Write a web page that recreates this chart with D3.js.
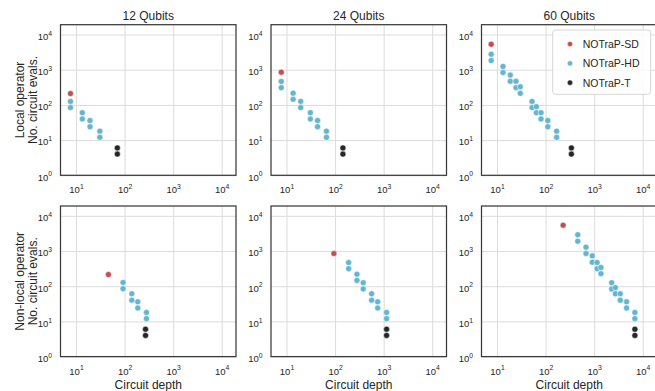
<!DOCTYPE html>
<html>
<head>
<meta charset="utf-8">
<script src="https://cdn.jsdelivr.net/npm/d3@7"></script>
<style>
  html, body { margin: 0; padding: 0; background: #fff; }
  svg { display: block; font-family: "Liberation Sans", Arial, Helvetica, sans-serif; }
</style>
</head>
<body>
<svg id="chart" width="655" height="391"></svg>
<script>
// ---------------- data ----------------
const columnTitles = ["12 Qubits", "24 Qubits", "60 Qubits"];
const rowLabels = ["Local operator", "Non-local operator"];
const yLabelLine2 = "No. circuit evals.";
const xLabel = "Circuit depth";
const seriesNames = ["NOTraP-SD", "NOTraP-HD", "NOTraP-T"];
const seriesColors = ["#c44e52", "#64b5cd", "#262626"];
const tickValues = [10, 100, 1000, 10000];

// Local operator, 12 qubits
const local12_sd_x = [7.7];
const local12_sd_y = [210];
const local12_hd_x = [7.7, 7.7, 13.5, 13.5, 19.4, 19.4, 31, 31];
const local12_hd_y = [126, 84, 60, 40, 36, 24, 18, 12];
const local12_t_x = [71, 71];
const local12_t_y = [6, 4];

// Local operator, 24 qubits
const local24_sd_x = [7.8];
const local24_sd_y = [850];
const local24_hd_x = [7.8, 7.8, 13.7, 13.7, 19.6, 19.6, 31, 31, 43.6, 43.6, 66.5, 66.5];
const local24_hd_y = [465, 310, 216, 144, 126, 84, 60, 40, 36, 24, 18, 12];
const local24_t_x = [145, 145];
const local24_t_y = [6, 4];

// Local operator, 60 qubits
const local60_sd_x = [7.6];
const local60_sd_y = [5300];
const local60_hd_x = [7.6, 7.6, 13.3, 13.3, 18.8, 18.8, 24.6, 24.6, 30.2, 30.2,
                      52.7, 52.7, 64.7, 64.7, 80.7, 80.7, 111, 111, 169, 169];
const local60_hd_y = [2760, 1830, 1240, 830, 705, 470, 470, 310, 327, 213,
                      126, 84, 89, 60, 60, 40, 36, 24, 18, 12];
const local60_t_x = [340, 340];
const local60_t_y = [6, 4];

// Non-local operator, 12 qubits
const nonlocal12_sd_x = [46.5];
const nonlocal12_sd_y = [215];
const nonlocal12_hd_x = [93, 93, 141, 141, 187, 187, 282, 282];
const nonlocal12_hd_y = [128, 85, 61, 40, 36, 24, 18, 12];
const nonlocal12_t_x = [270, 270];
const nonlocal12_t_y = [6, 4];

// Non-local operator, 24 qubits
const nonlocal24_sd_x = [94.5];
const nonlocal24_sd_y = [850];
const nonlocal24_hd_x = [190, 190, 282, 282, 380, 380, 565, 565, 755, 755, 1150, 1150];
const nonlocal24_hd_y = [470, 315, 220, 146, 126, 84, 61, 40, 36, 24, 18, 12];
const nonlocal24_t_x = [1150, 1150];
const nonlocal24_t_y = [6, 4];

// Non-local operator, 60 qubits
const nonlocal60_sd_x = [230];
const nonlocal60_sd_y = [5400];
const nonlocal60_hd_x = [460, 460, 680, 680, 915, 915, 1150, 1150, 1380, 1380,
                         2300, 2300, 2740, 2740, 3450, 3450, 4650, 4650, 6900, 6900];
const nonlocal60_hd_y = [2900, 1900, 1290, 850, 730, 480, 470, 315, 340, 227,
                         126, 84, 91, 61, 61, 40, 36, 24, 18, 12];
const nonlocal60_t_x = [6900, 6900];
const nonlocal60_t_y = [6, 4];

const panelData = [
  [
    [[local12_sd_x, local12_sd_y], [local12_hd_x, local12_hd_y], [local12_t_x, local12_t_y]],
    [[local24_sd_x, local24_sd_y], [local24_hd_x, local24_hd_y], [local24_t_x, local24_t_y]],
    [[local60_sd_x, local60_sd_y], [local60_hd_x, local60_hd_y], [local60_t_x, local60_t_y]]
  ],
  [
    [[nonlocal12_sd_x, nonlocal12_sd_y], [nonlocal12_hd_x, nonlocal12_hd_y], [nonlocal12_t_x, nonlocal12_t_y]],
    [[nonlocal24_sd_x, nonlocal24_sd_y], [nonlocal24_hd_x, nonlocal24_hd_y], [nonlocal24_t_x, nonlocal24_t_y]],
    [[nonlocal60_sd_x, nonlocal60_sd_y], [nonlocal60_hd_x, nonlocal60_hd_y], [nonlocal60_t_x, nonlocal60_t_y]]
  ]
];

// ---------------- layout ----------------
const svg = d3.select("#chart");
const panelLefts = [60.5, 271, 481.5];
const panelW = 175.5;
const rowTops = [24.7, 206];
const panelH = 150.6;
const textColor = "#262626";
const gridColor = "#dcdcdc";
const frameColor = "#3a3a3a";

const xDomain = [Math.pow(10, 0.681), Math.pow(10, 4.294)];
const yDomain = [1, Math.pow(10, 4.28)];

function supLabel(sel) {
  sel.each(function(d) {
    const t = d3.select(this);
    t.text(null);
    t.append("tspan").text("10");
    t.append("tspan").attr("dy", -4.2).attr("font-size", 6.8)
      .text(Math.round(Math.log10(d)));
  });
}

for (let r = 0; r < 2; r++) {
  for (let c = 0; c < 3; c++) {
    const left = panelLefts[c], top = rowTops[r];
    const x = d3.scaleLog().domain(xDomain).range([0, panelW]);
    const y = d3.scaleLog().domain(yDomain).range([panelH, 0]);
    const g = svg.append("g").attr("transform", `translate(${left},${top})`);

    // grid
    const gx = g.append("g").attr("transform", `translate(0,${panelH})`)
      .call(d3.axisBottom(x).tickValues(tickValues).tickSize(-panelH).tickFormat(""));
    gx.select(".domain").remove();
    gx.selectAll("line").attr("stroke", gridColor).attr("stroke-width", 1);
    const gy = g.append("g")
      .call(d3.axisLeft(y).tickValues([1, ...tickValues]).tickSize(-panelW).tickFormat(""));
    gy.select(".domain").remove();
    gy.selectAll("line").attr("stroke", gridColor).attr("stroke-width", 1);

    // tick labels
    const ax = g.append("g").attr("transform", `translate(0,${panelH})`)
      .call(d3.axisBottom(x).tickValues(tickValues).tickSize(0));
    ax.select(".domain").remove();
    ax.selectAll("text").attr("y", 18).attr("dy", null)
      .attr("font-size", 9.5).attr("fill", textColor)
      .attr("font-family", "Liberation Sans, Arial, sans-serif")
      .call(supLabel);
    const ay = g.append("g")
      .call(d3.axisLeft(y).tickValues([1, ...tickValues]).tickSize(0));
    ay.select(".domain").remove();
    ay.selectAll("text").attr("x", -8.5).attr("dy", 4.8)
      .attr("font-size", 9.5).attr("fill", textColor)
      .attr("font-family", "Liberation Sans, Arial, sans-serif")
      .call(supLabel);

    // points
    panelData[r][c].forEach((s, si) => {
      const pts = s[0].map((xv, i) => [xv, s[1][i]]);
      g.append("g").selectAll("circle").data(pts).join("circle")
        .attr("cx", d => x(d[0])).attr("cy", d => y(d[1]))
        .attr("r", 3).attr("fill", seriesColors[si])
        .attr("stroke", "#fff").attr("stroke-width", 0.5);
    });

    // frame
    g.append("rect").attr("x", 0).attr("y", 0)
      .attr("width", panelW).attr("height", panelH)
      .attr("fill", "none").attr("stroke", frameColor).attr("stroke-width", 1.25);

    if (r === 0) {
      svg.append("text").attr("x", left + panelW / 2).attr("y", 19.5)
        .attr("text-anchor", "middle").attr("font-size", 12).attr("fill", textColor)
        .text(columnTitles[c]);
    }
    if (r === 1) {
      svg.append("text").attr("x", left + panelW / 2).attr("y", 389)
        .attr("text-anchor", "middle").attr("font-size", 12).attr("fill", textColor)
        .text(xLabel);
    }
  }
  const cy = rowTops[r] + panelH / 2;
  const yl = svg.append("text").attr("transform", `translate(0,${cy}) rotate(-90)`)
    .attr("text-anchor", "middle").attr("font-size", 12).attr("fill", textColor);
  yl.append("tspan").attr("x", 0).attr("y", 23.5).text(rowLabels[r]);
  yl.append("tspan").attr("x", 0).attr("y", 36.5).text(yLabelLine2);
}

// legend
const lg = svg.append("g").attr("transform", "translate(552.7,30)");
lg.append("rect").attr("width", 98).attr("height", 64.3).attr("rx", 3)
  .attr("fill", "#fff").attr("fill-opacity", 0.85)
  .attr("stroke", "#d6d6d6").attr("stroke-width", 1);
seriesNames.forEach((n, i) => {
  const yy = 14 + i * 19.35;
  lg.append("circle").attr("cx", 17.3).attr("cy", yy).attr("r", 2.6)
    .attr("fill", seriesColors[i]).attr("stroke", "#fff").attr("stroke-width", 0.4);
  lg.append("text").attr("x", 30).attr("y", yy + 3.8)
    .attr("font-size", 10.5).attr("fill", textColor).text(n);
});
</script>
</body>
</html>
